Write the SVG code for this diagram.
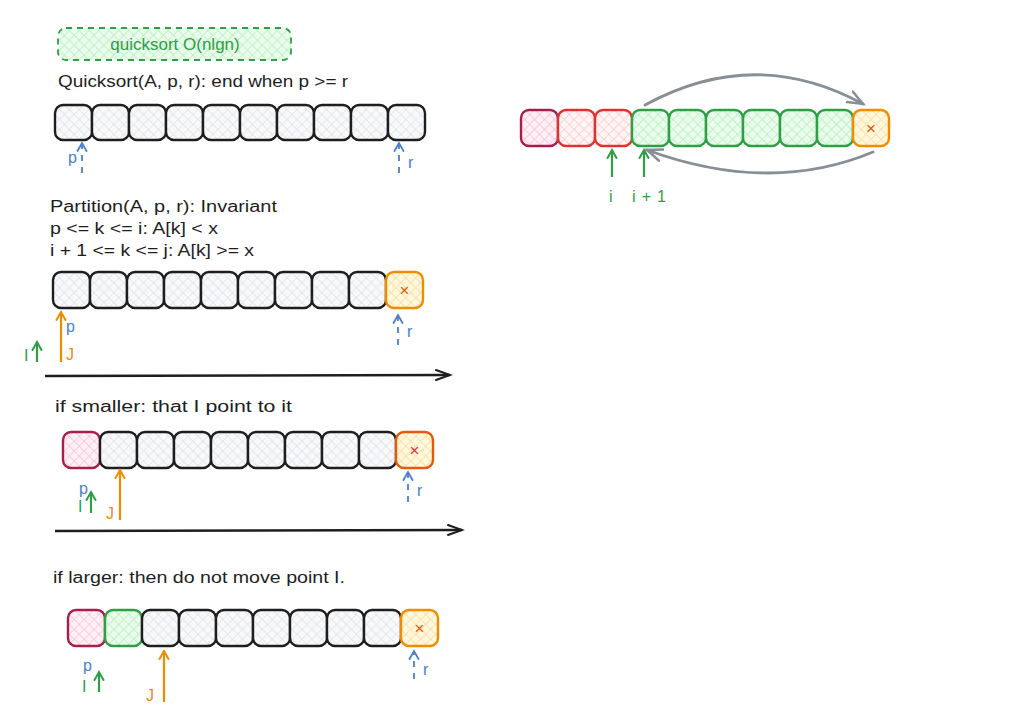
<svg xmlns="http://www.w3.org/2000/svg" width="1012" height="706" viewBox="0 0 1012 706">
<defs>
<pattern id="hGray" patternUnits="userSpaceOnUse" width="7" height="7" patternTransform="rotate(45)"><rect width="7" height="7" fill="#f8f9fa"/><path d="M0 0H7M0 0V7" stroke="#dee2e6" stroke-width="1.3"/></pattern>
<pattern id="hGreen" patternUnits="userSpaceOnUse" width="7" height="7" patternTransform="rotate(45)"><rect width="7" height="7" fill="#ebfbee"/><path d="M0 0H7M0 0V7" stroke="#b2f2bb" stroke-width="1.5"/></pattern>
<pattern id="hPink" patternUnits="userSpaceOnUse" width="7" height="7" patternTransform="rotate(45)"><rect width="7" height="7" fill="#fff0f6"/><path d="M0 0H7M0 0V7" stroke="#fcc2d7" stroke-width="1.5"/></pattern>
<pattern id="hRed" patternUnits="userSpaceOnUse" width="7" height="7" patternTransform="rotate(45)"><rect width="7" height="7" fill="#fff5f5"/><path d="M0 0H7M0 0V7" stroke="#ffc9c9" stroke-width="1.5"/></pattern>
<pattern id="hOrange" patternUnits="userSpaceOnUse" width="7" height="7" patternTransform="rotate(45)"><rect width="7" height="7" fill="#fff9db"/><path d="M0 0H7M0 0V7" stroke="#ffd8a8" stroke-width="1.5"/></pattern>
<marker id="mBlue" markerUnits="userSpaceOnUse" markerWidth="12" markerHeight="12" refX="9" refY="6" orient="auto"><path d="M1 1.5L9 6L1 10.5" fill="none" stroke="#4a7fd0" stroke-width="1.8" stroke-linecap="round"/></marker>
<marker id="mOrange" markerUnits="userSpaceOnUse" markerWidth="12" markerHeight="12" refX="9" refY="6" orient="auto"><path d="M1 1.5L9 6L1 10.5" fill="none" stroke="#f08c00" stroke-width="2" stroke-linecap="round"/></marker>
<marker id="mGreen" markerUnits="userSpaceOnUse" markerWidth="12" markerHeight="12" refX="9" refY="6" orient="auto"><path d="M1 1.5L9 6L1 10.5" fill="none" stroke="#2f9e44" stroke-width="2" stroke-linecap="round"/></marker>
<marker id="mBlack" markerUnits="userSpaceOnUse" markerWidth="18" markerHeight="14" refX="15" refY="7" orient="auto"><path d="M1 2L15 7L1 12" fill="none" stroke="#1e1e1e" stroke-width="2" stroke-linecap="round"/></marker>
<marker id="mGrayArr" markerUnits="userSpaceOnUse" markerWidth="20" markerHeight="16" refX="16" refY="8" orient="auto"><path d="M1 2L16 8L1 14" fill="none" stroke="#868e96" stroke-width="2.5" stroke-linecap="round"/></marker>
</defs>
<style>
text{font-family:"Liberation Sans","DejaVu Sans",sans-serif;}
.t{font-size:16px;fill:#1e1e1e;}
.c rect{stroke-width:2.4;rx:8;}
.gray rect{stroke:#1e1e1e;fill:url(#hGray);}
.green rect{stroke:#2f9e44;fill:url(#hGreen);}
.pink rect{stroke:#a61e4d;fill:url(#hPink);}
.red rect{stroke:#e03131;fill:url(#hRed);}
.orange rect{stroke:#f08c00;fill:url(#hOrange);}
.dorange rect{stroke:#e8590c;fill:url(#hOrange);}
.x{font-size:17px;text-anchor:middle;}
.lb{font-size:16px;fill:#4a7fd0;}
.lg{font-size:16px;fill:#2f9e44;}
.lo{font-size:16px;fill:#f08c00;}
.ab{stroke:#4a7fd0;stroke-width:1.8;stroke-dasharray:6 6;fill:none;marker-end:url(#mBlue);}
.ao{stroke:#f08c00;stroke-width:2.2;fill:none;marker-end:url(#mOrange);}
.ag{stroke:#2f9e44;stroke-width:2.2;fill:none;marker-end:url(#mGreen);}
.ak{stroke:#1e1e1e;stroke-width:2.5;fill:none;marker-end:url(#mBlack);}
.agr{stroke:#868e96;stroke-width:2.8;fill:none;marker-end:url(#mGrayArr);stroke-linecap:round;}
</style>
<rect width="1012" height="706" fill="#ffffff"/>

<g id="title">
<rect x="58" y="28" width="233" height="32" rx="8" fill="url(#hGreen)" stroke="#2f9e44" stroke-width="1.8" stroke-dasharray="6 5"/>
<text x="175" y="50" font-size="17" fill="#2f9e44" text-anchor="middle">quicksort O(nlgn)</text>
</g>

<g id="texts">
<text class="t" x="58" y="87" textLength="290" lengthAdjust="spacingAndGlyphs">Quicksort(A, p, r): end when p &gt;= r</text>
<text class="t" x="50" y="212" textLength="227" lengthAdjust="spacingAndGlyphs">Partition(A, p, r): Invariant</text>
<text class="t" x="50" y="234" textLength="168" lengthAdjust="spacingAndGlyphs">p &lt;= k &lt;= i: A[k] &lt; x</text>
<text class="t" x="50" y="256" textLength="204" lengthAdjust="spacingAndGlyphs">i + 1 &lt;= k &lt;= j: A[k] &gt;= x</text>
<text class="t" x="55" y="412" textLength="237" lengthAdjust="spacingAndGlyphs">if smaller: that I point to it</text>
<text class="t" x="53" y="583" textLength="292" lengthAdjust="spacingAndGlyphs">if larger: then do not move point I.</text>
</g>

<!-- Row 1 -->
<g id="r1c1" class="c gray"><rect x="55" y="105" width="37" height="35"/></g>
<g id="r1c2" class="c gray"><rect x="92" y="105" width="37" height="35"/></g>
<g id="r1c3" class="c gray"><rect x="129" y="105" width="37" height="35"/></g>
<g id="r1c4" class="c gray"><rect x="166" y="105" width="37" height="35"/></g>
<g id="r1c5" class="c gray"><rect x="203" y="105" width="37" height="35"/></g>
<g id="r1c6" class="c gray"><rect x="240" y="105" width="37" height="35"/></g>
<g id="r1c7" class="c gray"><rect x="277" y="105" width="37" height="35"/></g>
<g id="r1c8" class="c gray"><rect x="314" y="105" width="37" height="35"/></g>
<g id="r1c9" class="c gray"><rect x="351" y="105" width="37" height="35"/></g>
<g id="r1c10" class="c gray"><rect x="388" y="105" width="37" height="35"/></g>

<!-- Row 2 -->
<g id="r2c1" class="c gray"><rect x="53" y="272" width="37" height="36"/></g>
<g id="r2c2" class="c gray"><rect x="90" y="272" width="37" height="36"/></g>
<g id="r2c3" class="c gray"><rect x="127" y="272" width="37" height="36"/></g>
<g id="r2c4" class="c gray"><rect x="164" y="272" width="37" height="36"/></g>
<g id="r2c5" class="c gray"><rect x="201" y="272" width="37" height="36"/></g>
<g id="r2c6" class="c gray"><rect x="238" y="272" width="37" height="36"/></g>
<g id="r2c7" class="c gray"><rect x="275" y="272" width="37" height="36"/></g>
<g id="r2c8" class="c gray"><rect x="312" y="272" width="37" height="36"/></g>
<g id="r2c9" class="c gray"><rect x="349" y="272" width="37" height="36"/></g>
<g id="r2c10" class="c orange"><rect x="386" y="272" width="37" height="36"/><text class="x" x="404.5" y="296" fill="#e8590c">×</text></g>

<!-- Row 3 -->
<g id="r3c1" class="c pink"><rect x="63" y="432" width="37" height="36"/></g>
<g id="r3c2" class="c gray"><rect x="100" y="432" width="37" height="36"/></g>
<g id="r3c3" class="c gray"><rect x="137" y="432" width="37" height="36"/></g>
<g id="r3c4" class="c gray"><rect x="174" y="432" width="37" height="36"/></g>
<g id="r3c5" class="c gray"><rect x="211" y="432" width="37" height="36"/></g>
<g id="r3c6" class="c gray"><rect x="248" y="432" width="37" height="36"/></g>
<g id="r3c7" class="c gray"><rect x="285" y="432" width="37" height="36"/></g>
<g id="r3c8" class="c gray"><rect x="322" y="432" width="37" height="36"/></g>
<g id="r3c9" class="c gray"><rect x="359" y="432" width="37" height="36"/></g>
<g id="r3c10" class="c dorange"><rect x="396" y="432" width="37" height="36"/><text class="x" x="414.5" y="456" fill="#e03131">×</text></g>

<!-- Row 4 -->
<g id="r4c1" class="c pink"><rect x="68" y="610" width="37" height="36"/></g>
<g id="r4c2" class="c green"><rect x="105" y="610" width="37" height="36"/></g>
<g id="r4c3" class="c gray"><rect x="142" y="610" width="37" height="36"/></g>
<g id="r4c4" class="c gray"><rect x="179" y="610" width="37" height="36"/></g>
<g id="r4c5" class="c gray"><rect x="216" y="610" width="37" height="36"/></g>
<g id="r4c6" class="c gray"><rect x="253" y="610" width="37" height="36"/></g>
<g id="r4c7" class="c gray"><rect x="290" y="610" width="37" height="36"/></g>
<g id="r4c8" class="c gray"><rect x="327" y="610" width="37" height="36"/></g>
<g id="r4c9" class="c gray"><rect x="364" y="610" width="37" height="36"/></g>
<g id="r4c10" class="c orange"><rect x="401" y="610" width="37" height="36"/><text class="x" x="419.5" y="634" fill="#e8590c">×</text></g>

<!-- Right diagram -->
<g id="rc1" class="c pink"><rect x="521" y="110" width="37" height="36"/></g>
<g id="rc2" class="c red"><rect x="558" y="110" width="37" height="36"/></g>
<g id="rc3" class="c red"><rect x="595" y="110" width="37" height="36"/></g>
<g id="rc4" class="c green"><rect x="632" y="110" width="37" height="36"/></g>
<g id="rc5" class="c green"><rect x="669" y="110" width="37" height="36"/></g>
<g id="rc6" class="c green"><rect x="706" y="110" width="37" height="36"/></g>
<g id="rc7" class="c green"><rect x="743" y="110" width="37" height="36"/></g>
<g id="rc8" class="c green"><rect x="780" y="110" width="37" height="36"/></g>
<g id="rc9" class="c green"><rect x="817" y="110" width="36" height="36"/></g>
<g id="rc10" class="c orange"><rect x="853" y="110" width="36" height="36"/><text class="x" x="871" y="134" fill="#e8590c">×</text></g>

<g id="connectors">
<!-- Row 1 -->
<path class="ab" d="M82 173V143"/>
<path class="ab" d="M399 173V143"/>
<!-- Row 2 -->
<path class="ao" d="M61 362V312"/>
<path class="ag" d="M37 362V342"/>
<path class="ab" d="M398 345V315"/>
<path class="ak" d="M45 376L450 375"/>
<!-- Row 3 -->
<path class="ao" d="M120 520V470"/>
<path class="ag" d="M91 513V492"/>
<path class="ab" d="M408 502V472"/>
<path class="ak" d="M55 531L462 530"/>
<!-- Row 4 -->
<path class="ao" d="M164 702V651"/>
<path class="ag" d="M99 692V672"/>
<path class="ab" d="M414 679V651"/>
<!-- Right -->
<path class="ag" d="M612 177V150"/>
<path class="ag" d="M644 177V150"/>
<path class="agr" d="M645 105Q755 45 863 104"/>
<path class="agr" d="M873 152Q770 195 647 150"/>
</g>

<g id="labels">
<text class="lb" x="68" y="163">p</text>
<text class="lb" x="408" y="168">r</text>
<text class="lb" x="66" y="332">p</text>
<text class="lo" x="66" y="360">J</text>
<text class="lg" x="24" y="361">I</text>
<text class="lb" x="407" y="337">r</text>
<text class="lb" x="79" y="494">p</text>
<text class="lg" x="78" y="512">I</text>
<text class="lo" x="106" y="519">J</text>
<text class="lb" x="417" y="496">r</text>
<text class="lb" x="83" y="671">p</text>
<text class="lg" x="82" y="692">I</text>
<text class="lo" x="146" y="701">J</text>
<text class="lb" x="423" y="675">r</text>
<text class="lg" x="609" y="202">i</text>
<text class="lg" x="632" y="202" textLength="34" lengthAdjust="spacing">i + 1</text>
</g>
</svg>
